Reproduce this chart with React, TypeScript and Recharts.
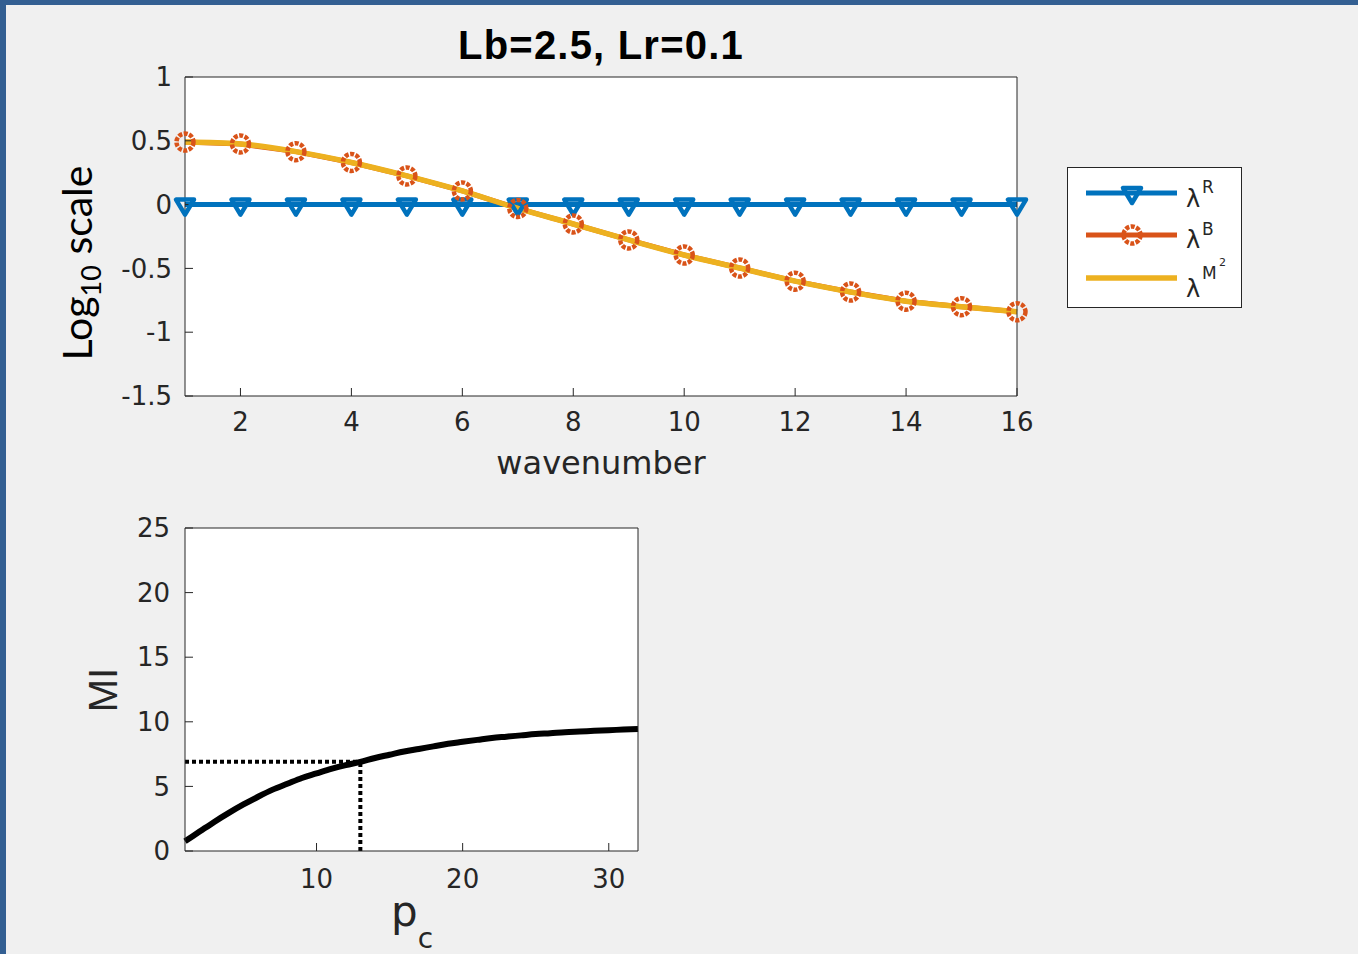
import {
  LineChart,
  Line,
  XAxis,
  YAxis,
  CartesianGrid,
  ReferenceLine,
  Legend,
} from "recharts";

const wavenumbers = [1, 2, 3, 4, 5, 6, 7, 8, 9, 10, 11, 12, 13, 14, 15, 16];
const lambdaR = [0, 0, 0, 0, 0, 0, 0, 0, 0, 0, 0, 0, 0, 0, 0, 0];
const lambdaB = [
  0.49, 0.475, 0.415, 0.33, 0.225, 0.107, -0.03, -0.152, -0.277, -0.395, -0.497,
  -0.6, -0.685, -0.757, -0.8, -0.84,
];
const lambdaM2 = [
  0.49, 0.475, 0.415, 0.33, 0.225, 0.107, -0.03, -0.152, -0.277, -0.395, -0.497,
  -0.6, -0.685, -0.757, -0.8, -0.84,
];
const waveTicks = [2, 4, 6, 8, 10, 12, 14, 16];
const logTicks = [-1.5, -1, -0.5, 0, 0.5, 1];

const pcValues = [
  1, 2, 3, 4, 5, 6, 7, 8, 9, 10, 11, 12, 13, 14, 15, 16, 17, 18, 19, 20, 21, 22,
  23, 24, 25, 26, 27, 28, 29, 30, 31, 32,
];
const miValues = [
  0.75, 1.5, 2.25, 2.95, 3.6, 4.2, 4.75, 5.2, 5.65, 6.0, 6.35, 6.65, 6.9, 7.2, 7.45,
  7.7, 7.9, 8.1, 8.3, 8.45, 8.6, 8.75, 8.85, 8.95, 9.05, 9.12, 9.2, 9.25, 9.3,
  9.35, 9.4, 9.45,
];
const pcTicks = [10, 20, 30];
const miTicks = [0, 5, 10, 15, 20, 25];
const pcMark = 13;
const miMark = 6.9;

const BLUE = "#0072bd";
const ORANGE = "#d95319";
const YELLOW = "#edb120";
const AXIS = "#262626";
const TICK_FONT = { fill: AXIS, fontSize: 26, fontFamily: "DejaVu Sans" };

const waveRows = wavenumbers.map((k, i) => ({
  k,
  r: lambdaR[i],
  b: lambdaB[i],
  m2: lambdaM2[i],
}));
const miRows = pcValues.map((pc, i) => ({ pc, mi: miValues[i] }));

function Triangle({ cx, cy }: { cx: number; cy: number }) {
  return (
    <path
      d={`M${cx - 9},${cy - 5} L${cx + 9},${cy - 5} L${cx},${cy + 10} Z`}
      fill="none"
      stroke={BLUE}
      strokeWidth={4.5}
      strokeLinejoin="round"
    />
  );
}

function Ring({ cx, cy }: { cx: number; cy: number }) {
  return (
    <circle
      cx={cx}
      cy={cy}
      r={8.5}
      fill="none"
      stroke={ORANGE}
      strokeWidth={4.5}
      strokeDasharray="4 1.5"
    />
  );
}

function LegendBox() {
  const lam = { fontFamily: "DejaVu Sans", fontSize: 24, fill: AXIS };
  const sup = { fontFamily: "DejaVu Sans", fontSize: 17, fill: AXIS };
  return (
    <svg width={175} height={141}>
      <rect x={0.5} y={0.5} width={174} height={140} fill="#fff" stroke={AXIS} />
      <line x1={19} x2={110} y1={26} y2={26} stroke={BLUE} strokeWidth={5} />
      <Triangle cx={65} cy={26} />
      <line x1={19} x2={110} y1={68} y2={68} stroke={ORANGE} strokeWidth={5} />
      <Ring cx={65} cy={68} />
      <line x1={19} x2={110} y1={111} y2={111} stroke={YELLOW} strokeWidth={5.5} />
      <text x={119} y={40} {...lam}>λ</text>
      <text x={135} y={26} {...sup}>R</text>
      <text x={119} y={81} {...lam}>λ</text>
      <text x={135} y={68} {...sup}>B</text>
      <text x={119} y={130} {...lam}>λ</text>
      <text x={135} y={112} {...sup}>M</text>
      <text x={152} y={99} {...sup} fontSize={11}>2</text>
    </svg>
  );
}

function WaveChart() {
  return (
    <LineChart
      width={1358}
      height={490}
      data={waveRows}
      margin={{ top: 76, right: 340, bottom: 54, left: 105 }}
    >
      <CartesianGrid fill="#ffffff" horizontal={false} vertical={false} />
      <XAxis
        dataKey="k"
        type="number"
        domain={[1, 16]}
        ticks={waveTicks}
        height={40}
        tick={TICK_FONT}
        tickSize={-8}
        tickMargin={25}
        axisLine={{ stroke: AXIS }}
        tickLine={{ stroke: AXIS }}
        label={(p: any) => (
          <text
            x={p.viewBox.x + p.viewBox.width / 2}
            y={474}
            textAnchor="middle"
            fontFamily="DejaVu Sans"
            fontSize={32}
            fill={AXIS}
          >
            wavenumber
          </text>
        )}
      />
      <XAxis
        xAxisId="top"
        orientation="top"
        type="number"
        domain={[1, 16]}
        ticks={waveTicks}
        height={1}
        tick={false}
        tickSize={-8}
        axisLine={{ stroke: AXIS }}
        tickLine={{ stroke: AXIS }}
        label={(p: any) => (
          <text
            x={p.viewBox.x + p.viewBox.width / 2}
            y={59}
            textAnchor="middle"
            fontFamily="Liberation Sans"
            fontWeight="bold"
            fontSize={40}
            letterSpacing={1.2}
            fill="#000"
          >
            Lb=2.5, Lr=0.1
          </text>
        )}
      />
      <YAxis
        type="number"
        domain={[-1.5, 1]}
        ticks={logTicks}
        width={80}
        tick={TICK_FONT}
        tickSize={-8}
        tickMargin={21}
        axisLine={{ stroke: AXIS }}
        tickLine={{ stroke: AXIS }}
        label={() => (
          <text
            x={92}
            y={263}
            transform="rotate(-90 92 263)"
            textAnchor="middle"
            fontFamily="Lato"
            fontSize={41}
            fill="#000"
          >
            Log
            <tspan fontSize={27} dy={9}>10</tspan>
            <tspan dy={-9}> scale</tspan>
          </text>
        )}
      />
      <YAxis
        yAxisId="right"
        orientation="right"
        type="number"
        domain={[-1.5, 1]}
        ticks={logTicks}
        width={1}
        tick={false}
        tickSize={-8}
        axisLine={{ stroke: AXIS }}
        tickLine={{ stroke: AXIS }}
      />
      <Legend
        layout="vertical"
        align="center"
        verticalAlign="middle"
        wrapperStyle={{ left: 1067, top: 167, width: 175, height: 141 }}
        content={() => <LegendBox />}
      />
      <Line
        dataKey="r"
        stroke={BLUE}
        strokeWidth={5}
        isAnimationActive={false}
        dot={(p: any) => <Triangle key={`r${p.index}`} cx={p.cx} cy={p.cy} />}
      />
      <Line
        dataKey="b"
        stroke={ORANGE}
        strokeWidth={5}
        isAnimationActive={false}
        dot={(p: any) => <Ring key={`b${p.index}`} cx={p.cx} cy={p.cy} />}
      />
      <Line
        type="monotone"
        dataKey="m2"
        stroke={YELLOW}
        strokeWidth={5.5}
        dot={false}
        isAnimationActive={false}
      />
    </LineChart>
  );
}

function MiChart() {
  return (
    <LineChart
      width={700}
      height={464}
      data={miRows}
      margin={{ top: 37, right: 61, bottom: 63, left: 105 }}
    >
      <CartesianGrid fill="#ffffff" horizontal={false} vertical={false} />
      <XAxis
        dataKey="pc"
        type="number"
        domain={[1, 32]}
        ticks={pcTicks}
        height={40}
        tick={TICK_FONT}
        tickSize={-8}
        tickMargin={27}
        axisLine={{ stroke: AXIS }}
        tickLine={{ stroke: AXIS }}
        label={() => (
          <text
            x={391}
            y={436}
            fontFamily="DejaVu Sans"
            fontSize={42}
            fill={AXIS}
          >
            p<tspan fontSize={28} dy={22}>c</tspan>
          </text>
        )}
      />
      <XAxis
        xAxisId="top"
        orientation="top"
        type="number"
        domain={[1, 32]}
        ticks={pcTicks}
        height={1}
        tick={false}
        tickSize={-8}
        axisLine={{ stroke: AXIS }}
        tickLine={{ stroke: AXIS }}
      />
      <YAxis
        type="number"
        domain={[0, 25]}
        ticks={miTicks}
        width={80}
        tick={TICK_FONT}
        tickSize={-8}
        tickMargin={23}
        axisLine={{ stroke: AXIS }}
        tickLine={{ stroke: AXIS }}
        label={() => (
          <text
            x={117}
            y={200}
            transform="rotate(-90 117 200)"
            textAnchor="middle"
            fontFamily="Liberation Sans"
            fontSize={40}
            fill={AXIS}
          >
            MI
          </text>
        )}
      />
      <YAxis
        yAxisId="right"
        orientation="right"
        type="number"
        domain={[0, 25]}
        ticks={miTicks}
        width={1}
        tick={false}
        tickSize={-8}
        axisLine={{ stroke: AXIS }}
        tickLine={{ stroke: AXIS }}
      />
      <ReferenceLine
        segment={[
          { x: 1, y: miMark },
          { x: pcMark, y: miMark },
        ]}
        stroke="#000"
        strokeWidth={4}
        strokeDasharray="4 3"
      />
      <ReferenceLine
        segment={[
          { x: pcMark, y: 0 },
          { x: pcMark, y: miMark },
        ]}
        stroke="#000"
        strokeWidth={4}
        strokeDasharray="4 3"
      />
      <Line
        type="monotone"
        dataKey="mi"
        stroke="#000"
        strokeWidth={6}
        dot={false}
        isAnimationActive={false}
      />
    </LineChart>
  );
}

export default function App() {
  return (
    <div
      style={{
        position: "absolute",
        left: 0,
        top: 0,
        width: 1358,
        height: 954,
        background: "#335f92",
        overflow: "hidden",
      }}
    >
      <div
        style={{
          position: "absolute",
          left: 6,
          top: 5,
          width: 1352,
          height: 949,
          background: "#f0f0f0",
        }}
      />
      <div style={{ position: "absolute", left: 0, top: 0 }}>
        <WaveChart />
      </div>
      <div style={{ position: "absolute", left: 0, top: 490 }}>
        <MiChart />
      </div>
    </div>
  );
}
